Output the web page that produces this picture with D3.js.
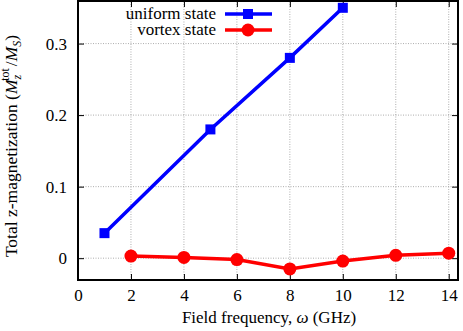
<!DOCTYPE html>
<html>
<head>
<meta charset="utf-8">
<script src="https://cdn.jsdelivr.net/npm/d3@7"></script>
<style>
  body { margin: 0; background: #fff; }
</style>
</head>
<body>
<div id="chart"></div>
<script>
// data
const uniformFreq = [1, 5, 8, 10];
const uniformMz = [0.035, 0.18, 0.28, 0.35];
const vortexFreq = [2, 4, 6, 8, 10, 12, 14];
const vortexMz = [0.003, 0.001, -0.002, -0.015, -0.004, 0.004, 0.007];
const xTicks = [0, 2, 4, 6, 8, 10, 12, 14];
const yTicks = [0, 0.1, 0.2, 0.3];

const width = 463, height = 331;
const margin = {top: 1, right: 5, bottom: 51, left: 78};
const serif = 'Liberation Serif';
const fontSize = 17;

const svg = d3.select('#chart').append('svg')
    .attr('width', width)
    .attr('height', height);

const x = d3.scaleLinear().domain([0, 14.35]).range([margin.left, width - margin.right]);
const y = d3.scaleLinear().domain([-0.0305, 0.3595]).range([height - margin.bottom, margin.top]);

// grid
const grid = svg.append('g');
grid.selectAll('line.gx')
  .data(xTicks.filter(d => d > 0))
  .join('line')
    .attr('x1', d => x(d)).attr('x2', d => x(d))
    .attr('y1', y.range()[0]).attr('y2', y.range()[1])
    .attr('stroke', '#999').attr('stroke-width', 0.8)
    .attr('stroke-dasharray', '1,1.5');
grid.selectAll('line.gy')
  .data(yTicks)
  .join('line')
    .attr('x1', x.range()[0]).attr('x2', x.range()[1])
    .attr('y1', d => y(d)).attr('y2', d => y(d))
    .attr('stroke', '#999').attr('stroke-width', 0.8)
    .attr('stroke-dasharray', '1,1.5');

// axes with inward ticks, mirrored
const xAxis = svg.append('g')
    .attr('transform', `translate(0,${y.range()[0]})`)
    .call(d3.axisBottom(x).tickValues(xTicks).tickSize(-6).tickPadding(9).tickFormat(d3.format('d')));
const xAxisTop = svg.append('g')
    .attr('transform', `translate(0,${y.range()[1]})`)
    .call(d3.axisTop(x).tickValues(xTicks).tickSize(-6).tickFormat(''));
const yAxis = svg.append('g')
    .attr('transform', `translate(${x.range()[0]},0)`)
    .call(d3.axisLeft(y).tickValues(yTicks).tickSize(-6).tickPadding(11).tickFormat(d => d === 0 ? '0' : d3.format('.1f')(d)));
const yAxisRight = svg.append('g')
    .attr('transform', `translate(${x.range()[1]},0)`)
    .call(d3.axisRight(y).tickValues(yTicks).tickSize(-6).tickFormat(''));

[xAxis, xAxisTop, yAxis, yAxisRight].forEach(a => {
  a.select('.domain').remove();
  a.selectAll('.tick line').attr('stroke', '#000').attr('stroke-width', 1);
  a.selectAll('text')
      .attr('fill', '#000')
      .attr('font-family', serif)
      .attr('font-size', fontSize);
});

// frame
svg.append('rect')
    .attr('x', x.range()[0]).attr('y', y.range()[1])
    .attr('width', x.range()[1] - x.range()[0])
    .attr('height', y.range()[0] - y.range()[1])
    .attr('fill', 'none').attr('stroke', '#000').attr('stroke-width', 2);

// series
const uniform = uniformFreq.map((f, i) => ({f, m: uniformMz[i]}));
const vortex = vortexFreq.map((f, i) => ({f, m: vortexMz[i]}));
const line = d3.line().x(d => x(d.f)).y(d => y(d.m));

svg.append('path').datum(uniform)
    .attr('d', line).attr('fill', 'none')
    .attr('stroke', '#0000ff').attr('stroke-width', 3.5);
svg.selectAll('rect.sq').data(uniform).join('rect')
    .attr('class', 'sq')
    .attr('x', d => x(d.f) - 5).attr('y', d => y(d.m) - 5)
    .attr('width', 10).attr('height', 10)
    .attr('fill', '#0000ff');

svg.append('path').datum(vortex)
    .attr('d', line).attr('fill', 'none')
    .attr('stroke', '#ff0000').attr('stroke-width', 3.5);
svg.selectAll('circle.pt').data(vortex).join('circle')
    .attr('class', 'pt')
    .attr('cx', d => x(d.f)).attr('cy', d => y(d.m))
    .attr('r', 6.5)
    .attr('fill', '#ff0000');

// legend
const legend = svg.append('g');
const legendItems = [
  {label: 'uniform state', color: '#0000ff', shape: 'square', yy: 14},
  {label: 'vortex state', color: '#ff0000', shape: 'circle', yy: 30}
];
legendItems.forEach(it => {
  legend.append('text')
      .attr('x', 216).attr('y', it.yy).attr('dy', '0.32em')
      .attr('text-anchor', 'end')
      .attr('font-family', serif).attr('font-size', fontSize)
      .text(it.label);
  legend.append('line')
      .attr('x1', 225).attr('x2', 272)
      .attr('y1', it.yy).attr('y2', it.yy)
      .attr('stroke', it.color).attr('stroke-width', 3.5);
  if (it.shape === 'square') {
    legend.append('rect')
        .attr('x', 248 - 5).attr('y', it.yy - 5)
        .attr('width', 10).attr('height', 10).attr('fill', it.color);
  } else {
    legend.append('circle')
        .attr('cx', 248).attr('cy', it.yy).attr('r', 6.5).attr('fill', it.color);
  }
});

// axis titles
const xTitle = svg.append('text')
    .attr('x', 269)
    .attr('y', 323)
    .attr('text-anchor', 'middle')
    .attr('font-family', serif).attr('font-size', fontSize);
xTitle.append('tspan').text('Field frequency, ');
xTitle.append('tspan').attr('font-style', 'italic').text('ω');
xTitle.append('tspan').text(' (GHz)');

const yTitle = svg.append('text')
    .attr('transform', 'translate(17,146) rotate(-90)')
    .attr('text-anchor', 'middle')
    .attr('font-family', serif).attr('font-size', 17.5);
yTitle.append('tspan').text('Total z-magnetization (');
yTitle.append('tspan').attr('font-style', 'italic').text('M');
yTitle.append('tspan').attr('font-style', 'italic').attr('font-size', 12).attr('dy', 4).text('z');
yTitle.append('tspan').attr('font-size', 12).attr('dx', -6).attr('dy', -12).text('tot');
yTitle.append('tspan').attr('dx', 2).attr('dy', 8).text('/');
yTitle.append('tspan').attr('font-style', 'italic').text('M');
yTitle.append('tspan').attr('font-style', 'italic').attr('font-size', 12).attr('dy', 4).text('S');
yTitle.append('tspan').attr('dy', -4).text(')');
</script>
</body>
</html>
